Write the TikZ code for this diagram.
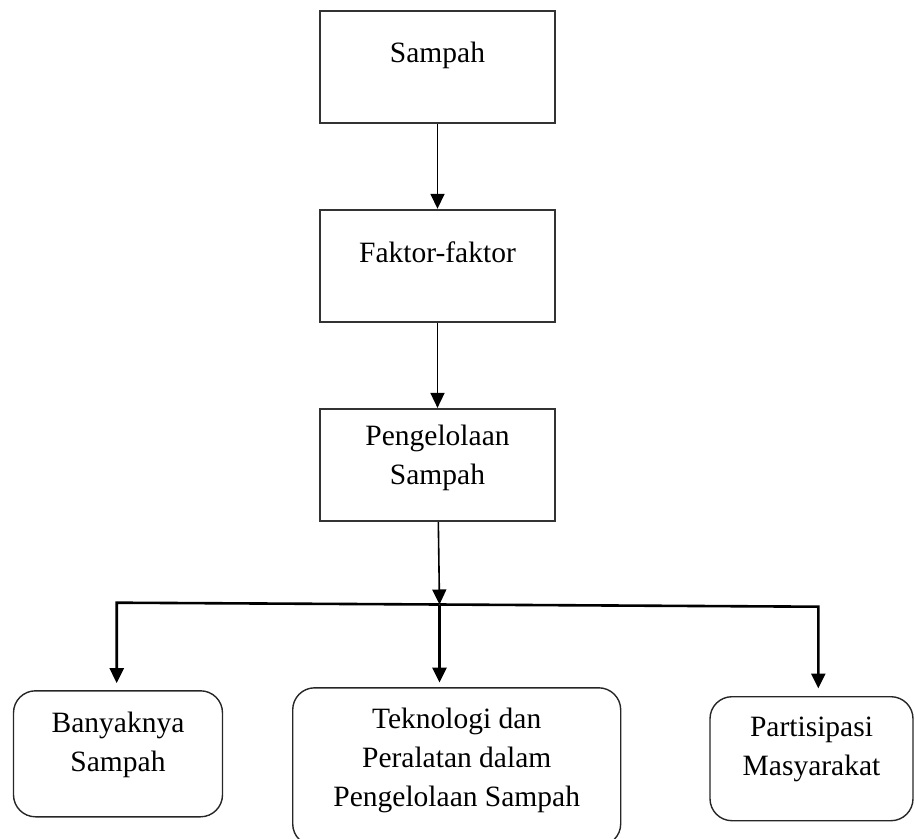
\documentclass[tikz,border=0pt]{standalone}
\usepackage{fontspec}
\setmainfont{Liberation Serif}
\usetikzlibrary{positioning,arrows.meta}

\begin{document}
\begin{tikzpicture}[x=1pt,y=1pt,>={Triangle[length=15pt,width=14pt]},node distance=85.5pt,
  font=\fontsize{29.5}{39}\selectfont,
  box/.style={draw=black!80,line width=1.6pt,minimum width=235pt,minimum height=112pt,align=center,text height=20pt},
  leaf/.style={draw=black!85,line width=1.4pt,rounded corners=22pt,align=center,text height=59pt},
  flow/.style={->,line width=1.6pt,shorten >=0.5pt},
  branch/.style={->,line width=2.6pt}]
\useasboundingbox (0,0) rectangle (915,-838);
\node[box,text depth=30pt] (sampah) at (437.5,-67) {Sampah};
\node[box,text depth=27pt,below=of sampah] (faktor) {Faktor-faktor};
\node[box,text height=59pt,text depth=21pt,below=of faktor] (kelola) {Pengelolaan\\Sampah};

\node[leaf,minimum width=209pt,minimum height=126pt,text depth=23pt] (banyak) at (118,-753.8) {Banyaknya\\Sampah};
\node[leaf,minimum width=328pt,minimum height=158pt,text height=98pt,text depth=19pt] (tekno) at (456.7,-766.8) {Teknologi dan\\Peralatan dalam\\Pengelolaan Sampah};
\node[leaf,minimum width=203pt,minimum height=124pt,text depth=26pt] (partisi) at (811.5,-758.7) {Partisipasi\\Masyarakat};

% bar under the third box
\coordinate (barL) at (116.7,-602.7);
\coordinate (barR) at (818.3,-606.7);
\coordinate (barM) at (439.5,-604.5);

\draw[flow] (sampah) -- (faktor);
\draw[flow] (faktor) -- (kelola);
\draw[flow,shorten >=0pt] (kelola) -- (barM);
\draw[branch,shorten >=7pt] (barM) -- (barL) -- (barL |- banyak.north);
\draw[branch,shorten >=4.5pt] (barM) -- (barM |- tekno.north);
\draw[branch,shorten >=7.5pt] (barM) -- (barR) -- (barR |- partisi.north);
\end{tikzpicture}
\end{document}
